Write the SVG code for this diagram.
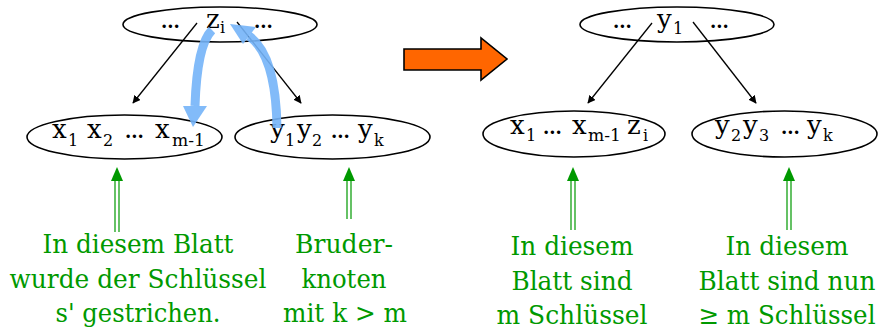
<svg xmlns="http://www.w3.org/2000/svg" width="886" height="331" viewBox="0 0 886 331">
<defs>
<style>
.node ellipse{fill:none;stroke:#000;stroke-width:1.6}
.t{font-family:'DejaVu Serif',serif;font-size:26px;fill:#000}
.s{font-size:16px}
.d{letter-spacing:-2px}
.g{font-family:'DejaVu Serif',serif;font-size:26px;fill:#009900;text-anchor:middle}
.blk{stroke:#000;stroke-width:1.3;fill:none;marker-end:url(#ah)}
.gl{stroke:#009900;stroke-width:1.2;fill:none}
.gh{fill:#009900}
.blue{fill:none;stroke:#74B4F8;stroke-width:9;opacity:0.9}
.bh{fill:#74B4F8;opacity:0.9}
</style>
<marker id="ah" viewBox="0 0 10 10" refX="9" refY="5" markerWidth="8" markerHeight="8" markerUnits="userSpaceOnUse" orient="auto">
<path d="M0,0 L10,5 L0,10 z" fill="#000"/>
</marker>
</defs>
<rect width="886" height="331" fill="#fff"/>

<g id="node-top-left" class="node">
<ellipse cx="220" cy="24.5" rx="97" ry="17.5"/>
<text class="t" y="28"><tspan class="d" x="160">...</tspan><tspan x="206">z</tspan><tspan class="s" x="220" dy="5">i</tspan><tspan class="d" x="253" dy="-5">...</tspan></text>
</g>
<g id="node-left-a" class="node">
<ellipse cx="124.5" cy="137" rx="97.5" ry="22"/>
<text class="t" y="138"><tspan x="52">x</tspan><tspan class="s" x="68" dy="8">1</tspan><tspan x="87" dy="-8">x</tspan><tspan class="s" x="103" dy="8">2</tspan><tspan class="d" x="124" dy="-8">...</tspan><tspan x="155">x</tspan><tspan class="s" x="172" dy="8" textLength="33" lengthAdjust="spacingAndGlyphs">m-1</tspan></text>
</g>
<g id="node-left-b" class="node">
<ellipse cx="332.5" cy="137" rx="97.5" ry="22"/>
<text class="t" y="138"><tspan x="270">y</tspan><tspan class="s" x="285" dy="8">1</tspan><tspan x="297" dy="-8">y</tspan><tspan class="s" x="312" dy="8">2</tspan><tspan class="d" x="330" dy="-8">...</tspan><tspan x="358">y</tspan><tspan class="s" x="374" dy="8">k</tspan></text>
</g>
<g id="node-top-right" class="node">
<ellipse cx="677" cy="24.5" rx="97" ry="17.5"/>
<text class="t" y="28"><tspan class="d" x="612">...</tspan><tspan x="657">y</tspan><tspan class="s" x="673" dy="6">1</tspan><tspan class="d" x="709" dy="-6">...</tspan></text>
</g>
<g id="node-right-a" class="node">
<ellipse cx="574" cy="134" rx="91" ry="23"/>
<text class="t" y="134"><tspan x="510">x</tspan><tspan class="s" x="526" dy="7">1</tspan><tspan class="d" x="542" dy="-7">...</tspan><tspan x="572">x</tspan><tspan class="s" x="588" dy="7" textLength="33" lengthAdjust="spacingAndGlyphs">m-1</tspan><tspan x="627" dy="-7">z</tspan><tspan class="s" x="643" dy="7">i</tspan></text>
</g>
<g id="node-right-b" class="node">
<ellipse cx="784.5" cy="134" rx="92.5" ry="23"/>
<text class="t" y="134"><tspan x="715">y</tspan><tspan class="s" x="731" dy="7">2</tspan><tspan x="743" dy="-7">y</tspan><tspan class="s" x="759" dy="7">3</tspan><tspan class="d" x="780" dy="-7">...</tspan><tspan x="807">y</tspan><tspan class="s" x="823" dy="7">k</tspan></text>
</g>

<g id="transform-arrow">
<path d="M404,49 L481,49 L481,38 L507,59 L481,80 L481,70 L404,70 Z" fill="#FF6600" stroke="#000" stroke-width="1.6" stroke-linejoin="miter"/>
</g>

<g id="connectors">
<line class="blk" x1="197" y1="23" x2="133" y2="103"/>
<line class="blk" x1="237" y1="22" x2="301" y2="103"/>
<line class="blk" x1="652" y1="23" x2="588" y2="103"/>
<line class="blk" x1="693" y1="22" x2="756" y2="103"/>

<path class="blue" d="M212,30 Q197,45 195,106"/>
<polygon class="bh" points="183,106 207,106 193,127"/>
<path class="blue" d="M277,128 Q276,55 249,36"/>
<polygon class="bh" points="230,24 256,27 243,44"/>

<path class="gl" d="M115,180 V232 M119,180 V232"/>
<polygon class="gh" points="117,167 111,181 123,181"/>
<path class="gl" d="M347,180 V219 M351,180 V219"/>
<polygon class="gh" points="349,167 343,181 355,181"/>
<path class="gl" d="M571,180 V230 M575,180 V230"/>
<polygon class="gh" points="573,167 567,181 579,181"/>
<path class="gl" d="M787,180 V230 M791,180 V230"/>
<polygon class="gh" points="789,167 783,181 795,181"/>
</g>

<g id="labels">
<text class="g" x="138" y="253" textLength="191" lengthAdjust="spacingAndGlyphs">In diesem Blatt</text>
<text class="g" x="138" y="288" textLength="257" lengthAdjust="spacingAndGlyphs">wurde der Schlüssel</text>
<text class="g" x="138" y="322" textLength="165" lengthAdjust="spacingAndGlyphs">s' gestrichen.</text>
<text class="g" x="344" y="253" textLength="98" lengthAdjust="spacingAndGlyphs">Bruder-</text>
<text class="g" x="344" y="288" textLength="85" lengthAdjust="spacingAndGlyphs">knoten</text>
<text class="g" x="345" y="322" textLength="124" lengthAdjust="spacingAndGlyphs">mit k &gt; m</text>
<text class="g" x="572" y="255" textLength="123" lengthAdjust="spacingAndGlyphs">In diesem</text>
<text class="g" x="572" y="290" textLength="121" lengthAdjust="spacingAndGlyphs">Blatt sind</text>
<text class="g" x="572" y="324" textLength="151" lengthAdjust="spacingAndGlyphs">m Schlüssel</text>
<text class="g" x="787" y="255" textLength="123" lengthAdjust="spacingAndGlyphs">In diesem</text>
<text class="g" x="787" y="290" textLength="177" lengthAdjust="spacingAndGlyphs">Blatt sind nun</text>
<text class="g" x="787" y="324" textLength="177" lengthAdjust="spacingAndGlyphs">≥ m Schlüssel</text>
</g>
</svg>
